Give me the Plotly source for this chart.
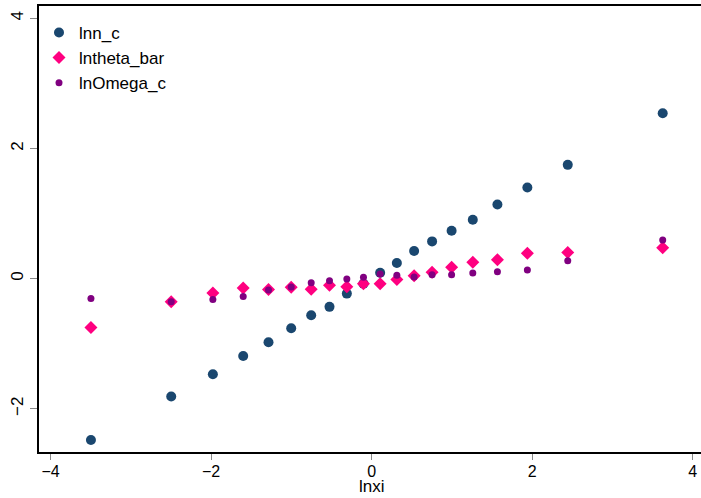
import plotly.graph_objects as go

lnxi = [-3.497, -2.497, -1.978, -1.600, -1.285, -1.002, -0.753, -0.525, -0.309, -0.102,
        0.106, 0.314, 0.529, 0.753, 0.996, 1.260, 1.567, 1.940, 2.443, 3.626]
lnn_c = [-2.48, -1.81, -1.47, -1.19, -0.977, -0.762, -0.564, -0.434, -0.230, -0.077,
         0.089, 0.241, 0.425, 0.572, 0.736, 0.905, 1.140, 1.400, 1.748, 2.541]
lntheta_bar = [-0.752, -0.357, -0.219, -0.143, -0.169, -0.133, -0.164, -0.100, -0.123, -0.080,
               -0.077, -0.015, 0.046, 0.097, 0.173, 0.250, 0.291, 0.388, 0.403, 0.475]
lnOmega_c = [-0.307, -0.357, -0.322, -0.276, -0.174, -0.127, -0.063, -0.031, -0.005, 0.020,
             0.070, 0.051, 0.026, 0.061, 0.061, 0.087, 0.107, 0.133, 0.276, 0.594]

x_ticks = [-4, -2, 0, 2, 4]
y_ticks = [-2, 0, 2, 4]
x_title = "lnxi"

FONT = "Liberation Sans"

fig = go.Figure()
fig.add_trace(go.Scatter(x=lnxi, y=lnn_c, mode="markers", name="lnn_c",
                         marker=dict(symbol="circle", size=10, color="#1a476f")))
fig.add_trace(go.Scatter(x=lnxi, y=lntheta_bar, mode="markers", name="lntheta_bar",
                         marker=dict(symbol="diamond", size=10, color="#ff0080")))
fig.add_trace(go.Scatter(x=lnxi, y=lnOmega_c, mode="markers", name="lnOmega_c",
                         marker=dict(symbol="circle", size=7, color="#800080")))

fig.update_layout(
    width=701, height=498,
    margin=dict(l=39, r=0, t=6, b=46),
    paper_bgcolor="white", plot_bgcolor="white",
    font=dict(family=FONT, size=17, color="black"),
    showlegend=True,
    legend=dict(x=0.0, y=0.98, xanchor="left", yanchor="top",
                bgcolor="rgba(0,0,0,0)", borderwidth=0,
                font=dict(family=FONT, size=17, color="black"),
                itemsizing="trace"),
    xaxis=dict(range=[-4.144, 4.103], tickvals=x_ticks, ticktext=["\u22124", "\u22122", "0", "2", "4"],
               showgrid=False, zeroline=False, showline=True, linecolor="black", linewidth=1.5,
               mirror=True, ticks="outside", ticklen=6, tickcolor="#888888", tickwidth=1,
               automargin=False, tickfont=dict(size=16), ticklabelstandoff=-2),
    yaxis=dict(range=[-2.664, 4.189], tickvals=y_ticks, ticktext=["\u22122", "0", "2", "4"],
               showgrid=False, zeroline=False, showline=True, linecolor="black", linewidth=1.5,
               ticks="outside", ticklen=7, tickcolor="#888888", tickwidth=1,
               automargin=False, tickangle=-90, tickfont=dict(size=17)),
    annotations=[dict(text=x_title, xref="x", yref="paper", x=0, y=-0.102,
                      xanchor="center", yanchor="bottom", showarrow=False, borderpad=0,
                      font=dict(family=FONT, size=17, color="black"))],
)

fig.write_html(
    "out.html",
    config={"displayModeBar": False},
    post_script="document.body.style.margin='0';document.body.style.overflow='hidden';",
)
